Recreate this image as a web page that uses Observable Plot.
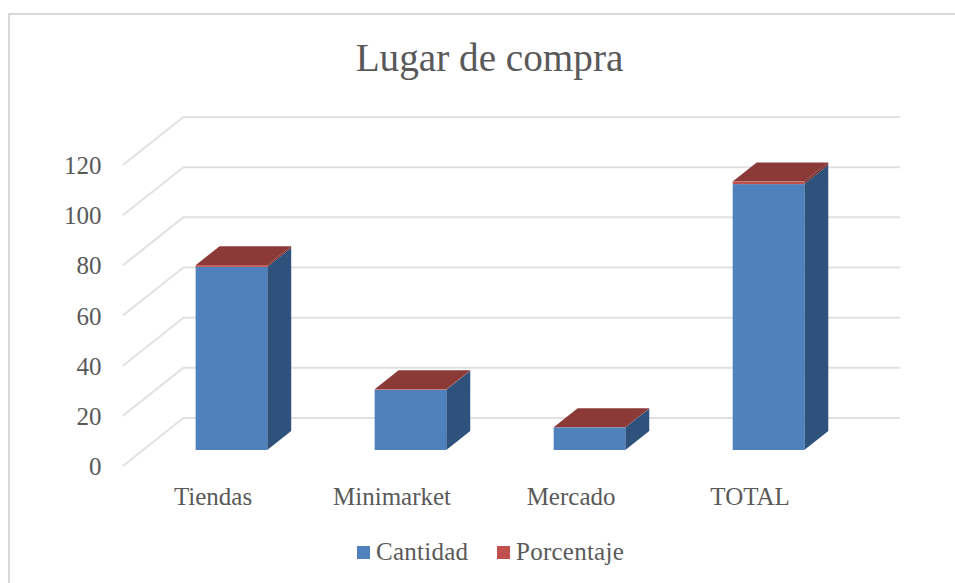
<!DOCTYPE html>
<html>
<head>
<meta charset="utf-8">
<script src="https://cdn.jsdelivr.net/npm/d3@7"></script>
<script src="https://cdn.jsdelivr.net/npm/@observablehq/plot@0.6"></script>
<style>
  html, body { margin: 0; padding: 0; background: #fff; }
  #chart { position: relative; width: 955px; height: 583px; box-sizing: border-box; overflow: hidden;
           font-family: "Liberation Serif", serif; color: #595959; }
  #frame { position: absolute; left: 8px; top: 13px; width: 960px; height: 600px; box-sizing: border-box; border: 2px solid #d9d9d9; }
  #title { position: absolute; left: 0; top: 36px; width: 979px; text-align: center; font-size: 39.2px; line-height: 44px; font-weight: normal; margin: 0; }
  #plot { position: absolute; left: 0; top: 90px; }
  #legend { position: absolute; top: 537px; left: 0; height: 30px; }
  .item { position: absolute; top: 0; font-size: 25px; line-height: 30px; white-space: nowrap; letter-spacing: 0.25px; }
  .swatch { position: absolute; top: 9px; width: 13px; height: 13px; }
</style>
</head>
<body>
<div id="chart">
  <div id="frame"></div>
  <h1 id="title">Lugar de compra</h1>
  <div id="plot"></div>
  <div id="legend"></div>
</div>
<script>
const categories = ["Tiendas", "Minimarket", "Mercado", "TOTAL"];
const cantidad = [73, 24, 9, 106];
const porcentaje = [0.69, 0.23, 0.08, 1];
const yTicks = [0, 20, 40, 60, 80, 100, 120];

const blueFront = "#4F81BD", blueSide = "#2F527C";
const redFront = "#C0504D", redSide = "#7A3230", redTop = "#8C3A38";

// Oblique 3D model: depth 0 is the front plane, depth 1 the back wall.
const wallX = 0.3347, wallY = 18.94;            // wall depth in x / y data units
const barD0 = 0.316, barD1 = 0.716;             // bar depth extent
const barW = 0.4;
const px = (pos, d) => pos + wallX * d;
const py = (v, d) => v + wallY * d;

// gridlines: front plane -> back wall -> right end
const grid = yTicks.flatMap(t => [
  {t, x: px(0, 0), y: py(t, 0)},
  {t, x: px(0, 1), y: py(t, 1)},
  {t, x: px(4, 1), y: py(t, 1)}
]);

const fronts = [], sides = [], tops = [];
categories.forEach((c, i) => {
  const L = i + 0.5 - barW / 2, R = i + 0.5 + barW / 2;
  const a = cantidad[i], b = cantidad[i] + porcentaje[i];
  fronts.push({x1: px(L, barD0), x2: px(R, barD0), y1: py(0, barD0), y2: py(a, barD0), fill: blueFront});
  fronts.push({x1: px(L, barD0), x2: px(R, barD0), y1: py(a, barD0), y2: py(b, barD0), fill: redFront});
  for (const [key, v0, v1, fill] of [[c + "a", 0, a, blueSide], [c + "b", a, b, redSide]]) {
    sides.push({key, fill, x: px(R, barD0), y1: py(v0, barD0), y2: py(v1, barD0)});
    sides.push({key, fill, x: px(R, barD1), y1: py(v0, barD1), y2: py(v1, barD1)});
  }
  const fy = py(b, barD0), by = py(b, barD1);
  tops.push({key: c, x: px(L, barD0), y1: fy, y2: fy});
  tops.push({key: c, x: px(L, barD1), y1: fy, y2: by});
  tops.push({key: c, x: px(R, barD0), y1: fy, y2: by});
  tops.push({key: c, x: px(R, barD1), y1: by, y2: by});
});

const fig = Plot.plot({
  width: 955,
  height: 430,
  marginLeft: 123,
  marginRight: 56,
  marginTop: 74,
  marginBottom: 55,
  style: {background: "transparent", fontFamily: "'Liberation Serif', serif", fontSize: "25px", color: "#595959", overflow: "visible"},
  x: {domain: [0, 4 + wallX], axis: null},
  y: {domain: [0, 120], axis: null},
  marks: [
    Plot.line(grid, {x: "x", y: "y", z: "t", stroke: "#e1e1e1", strokeWidth: 2, curve: "linear"}),
    Plot.areaY(sides, {x: "x", y1: "y1", y2: "y2", z: "key", fill: "fill", curve: "linear"}),
    Plot.areaY(tops, {x: "x", y1: "y1", y2: "y2", z: "key", fill: redTop, curve: "linear"}),
    Plot.rect(fronts, {x1: "x1", x2: "x2", y1: "y1", y2: "y2", fill: "fill"}),
    Plot.axisY({ticks: yTicks, tickSize: 0, tickPadding: 22, dy: 1.5, label: null, fill: "#595959", fontSize: 25}),
    Plot.axisX({
      ticks: categories.map((c, i) => i + 0.5),
      tickFormat: p => categories[Math.round(p - 0.5)],
      tickSize: 0, tickPadding: 22, label: null, fill: "#595959", fontSize: 25
    })
  ]
});
document.getElementById("plot").append(fig);

const legend = document.getElementById("legend");
[["Cantidad", blueFront, 357], ["Porcentaje", redFront, 497]].forEach(([name, color, x]) => {
  const s = document.createElement("span");
  s.className = "swatch"; s.style.left = x + "px"; s.style.background = color;
  const t = document.createElement("span");
  t.className = "item"; t.style.left = (x + 19) + "px"; t.textContent = name;
  legend.append(s, t);
});
</script>
</body>
</html>
